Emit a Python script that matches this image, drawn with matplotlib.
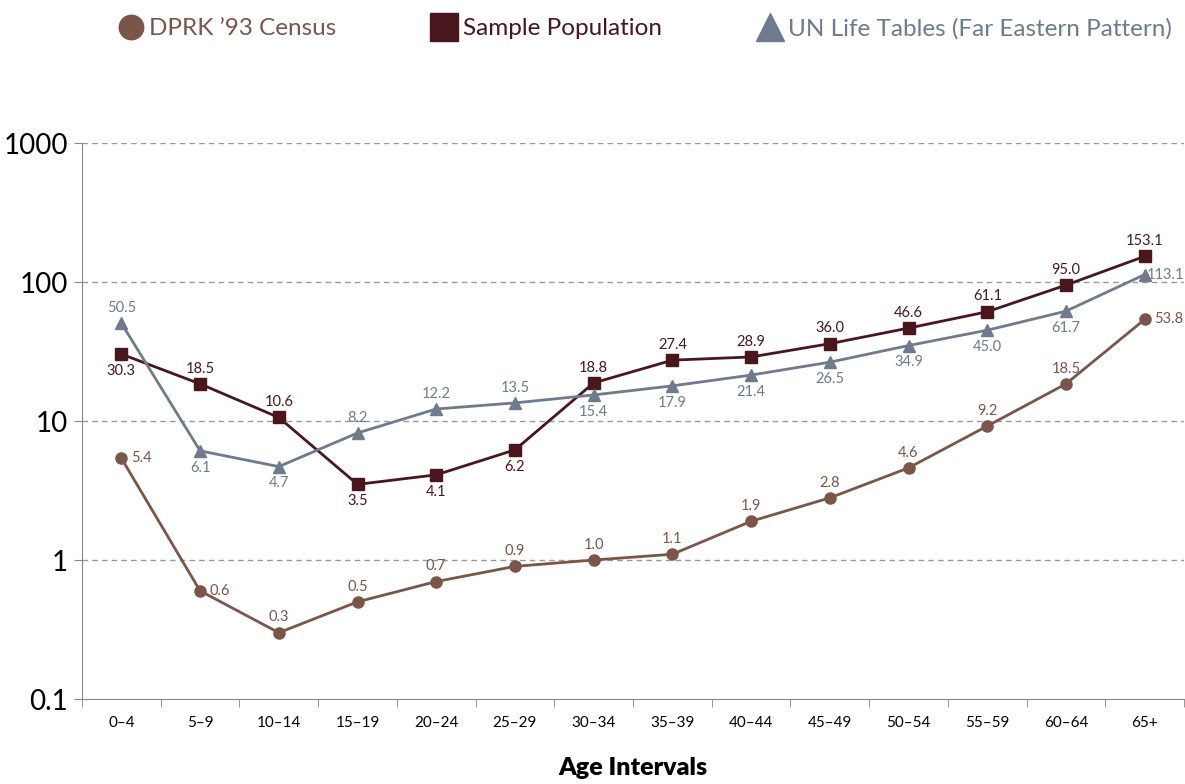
import matplotlib
matplotlib.use("Agg")
import matplotlib.pyplot as plt
import numpy as np

plt.rcParams["font.family"] = ["Lato", "DejaVu Sans"]

ages = ["0\u20134", "5\u20139", "10\u201314", "15\u201319", "20\u201324", "25\u201329", "30\u201334",
        "35\u201339", "40\u201344", "45\u201349", "50\u201354", "55\u201359", "60\u201364", "65+"]
dprk = [5.4, 0.6, 0.3, 0.5, 0.7, 0.9, 1.0, 1.1, 1.9, 2.8, 4.6, 9.2, 18.5, 53.8]
sample = [30.3, 18.5, 10.6, 3.5, 4.1, 6.2, 18.8, 27.4, 28.9, 36.0, 46.6, 61.1, 95.0, 153.1]
un = [50.5, 6.1, 4.7, 8.2, 12.2, 13.5, 15.4, 17.9, 21.4, 26.5, 34.9, 45.0, 61.7, 113.1]

# label placement: r = right, a = above, b = below
dprk_pos = ["r", "r"] + ["a"] * 11 + ["r"]
sample_pos = ["b", "a", "a", "b", "b", "b"] + ["a"] * 8
un_pos = ["a", "b", "b", "a", "a", "a"] + ["b"] * 7 + ["r"]

C_DPRK = "#7a5548"
C_SAMPLE = "#4a161e"
C_UN = "#6e7b8c"

fig = plt.figure(figsize=(11.85, 7.84), dpi=100)
ax = fig.add_axes([0.0692, 0.1084, 0.93, 0.7092])
x = np.arange(len(ages))

ax.plot(x, dprk, "-o", color=C_DPRK, lw=2, ms=8, label="DPRK \u201993 Census")
ax.plot(x, sample, "-s", color=C_SAMPLE, lw=2, ms=9, label="Sample Population")
ax.plot(x, un, "-^", color=C_UN, lw=2, ms=9, label="UN Life Tables (Far Eastern Pattern)")


def label(vals, pos, color, rgap=4):
    for xi, v, p in zip(x, vals, pos):
        if p == "r":
            ax.annotate(f"{v:.1f}", (xi, v), xytext=(rgap, 0), textcoords="offset points",
                        ha="left", va="center", fontsize=10.5, color=color)
        elif p == "a":
            ax.annotate(f"{v:.1f}", (xi, v), xytext=(0, 6), textcoords="offset points",
                        ha="center", va="bottom", fontsize=10.5, color=color)
        else:
            ax.annotate(f"{v:.1f}", (xi, v), xytext=(0, -7), textcoords="offset points",
                        ha="center", va="top", fontsize=10.5, color=color)


label(dprk, dprk_pos, C_DPRK, rgap=7)
label(sample, sample_pos, C_SAMPLE)
label(un, un_pos, C_UN, rgap=1.5)

ax.set_yscale("log")
ax.set_ylim(0.1, 1000)
ax.set_xlim(-0.5, len(ages) - 0.5)
ax.set_yticks([0.1, 1, 10, 100, 1000])
ax.set_yticklabels(["0.1", "1", "10", "100", "1000"], fontsize=20)
ax.yaxis.set_minor_locator(matplotlib.ticker.NullLocator())
ax.set_xticks(x)
ax.set_xticklabels(ages, fontsize=11)
ax.set_xticks(np.arange(len(ages) + 1) - 0.5, minor=True)
ax.tick_params(axis="x", which="major", length=0, pad=12)
ax.tick_params(axis="x", which="minor", length=6, color="#888888")
ax.tick_params(axis="y", length=6, color="#888888", pad=4)
for yv in [1, 10, 100, 1000]:
    ax.axhline(yv, color="#999999", lw=1, ls=(0, (4, 3)), zorder=0)
for s in ["top", "right"]:
    ax.spines[s].set_visible(False)
ax.spines["left"].set_color("#888888")
ax.spines["bottom"].set_color("#888888")
ax.set_xlabel("Age Intervals", fontsize=18, fontweight="heavy", labelpad=20)

fig.legend(loc="upper center", bbox_to_anchor=(0.545, 1.005), ncol=3, frameon=False,
           fontsize=17.5, handlelength=0.9, columnspacing=4.0, handletextpad=0.3,
           markerscale=2.2, labelcolor=[C_DPRK, C_SAMPLE, C_UN])
leg = fig.legends[0]
for h in leg.legend_handles:
    h.set_linestyle("none")

fig.savefig("out.png", dpi=100)
